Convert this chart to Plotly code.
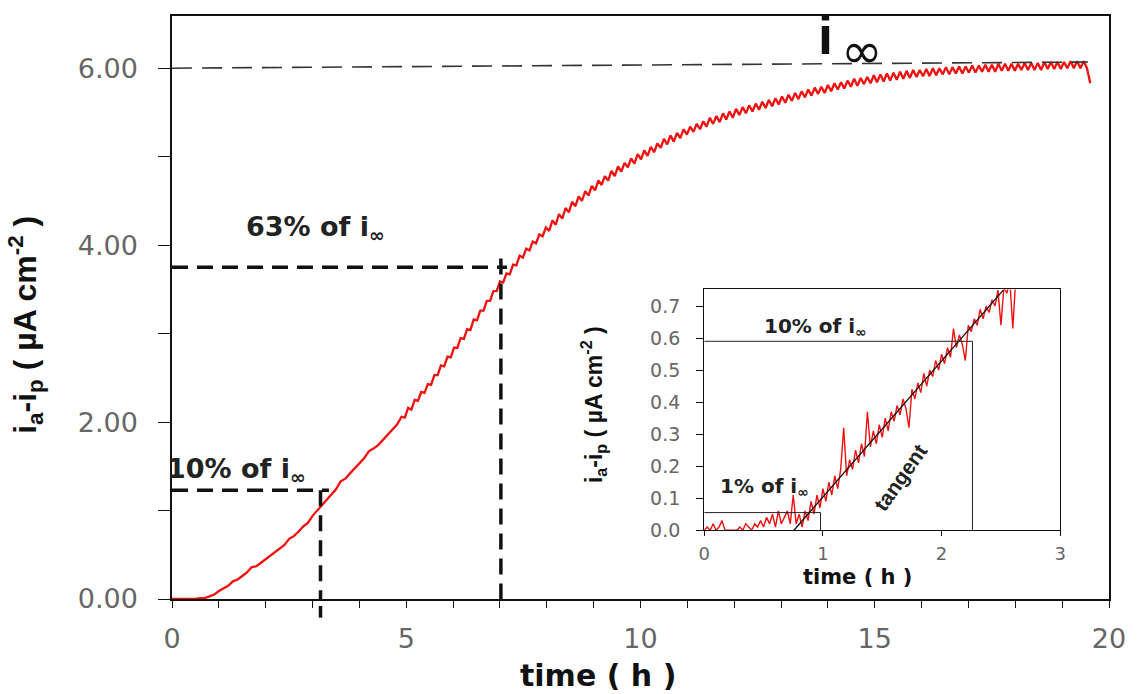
import plotly.graph_objects as go

# ---------------- main curve data (i_a - i_p, µA cm^-2) ----------------
# early part, sampled every 0.1 h from t = 0
early_y = [0.00, 0.00, 0.00, 0.00, 0.00, 0.00, 0.01, 0.01, 0.03, 0.05,
           0.09, 0.12, 0.15, 0.20, 0.22, 0.26, 0.30, 0.36, 0.37, 0.41,
           0.45, 0.49, 0.53, 0.57, 0.61, 0.68, 0.71, 0.76, 0.82, 0.86,
           0.94, 1.00, 1.06, 1.12, 1.18, 1.24, 1.33, 1.36, 1.42, 1.48,
           1.53, 1.59, 1.67, 1.70, 1.74, 1.80, 1.86, 1.91, 1.97]
early_t0 = 0.0
early_dt = 0.1

# later part with the periodic ripple, sampled every 0.07 h from t = 4.90
ripple_y = [2.06, 2.05, 2.16, 2.14, 2.25, 2.24, 2.34, 2.33, 2.43, 2.42,
            2.53, 2.53, 2.64, 2.63, 2.74, 2.73, 2.84, 2.84, 2.95, 2.94,
            3.05, 3.04, 3.16, 3.15, 3.26, 3.26, 3.37, 3.37, 3.48, 3.48,
            3.59, 3.58, 3.68, 3.67, 3.78, 3.77, 3.88, 3.86, 3.96, 3.94,
            4.04, 4.02, 4.12, 4.10, 4.20, 4.16, 4.28, 4.23, 4.35, 4.30,
            4.42, 4.37, 4.49, 4.44, 4.55, 4.50, 4.61, 4.56, 4.67, 4.62,
            4.73, 4.68, 4.78, 4.73, 4.84, 4.78, 4.89, 4.83, 4.93, 4.88,
            4.98, 4.92, 5.03, 4.97, 5.07, 5.01, 5.11, 5.05, 5.15, 5.10,
            5.20, 5.14, 5.24, 5.17, 5.27, 5.21, 5.31, 5.25, 5.34, 5.28,
            5.37, 5.31, 5.40, 5.34, 5.44, 5.37, 5.46, 5.39, 5.49, 5.42,
            5.51, 5.44, 5.54, 5.47, 5.56, 5.49, 5.58, 5.51, 5.60, 5.53,
            5.62, 5.55, 5.64, 5.57, 5.66, 5.59, 5.68, 5.61, 5.70, 5.63,
            5.72, 5.65, 5.74, 5.67, 5.76, 5.69, 5.78, 5.71, 5.79, 5.72,
            5.81, 5.74, 5.83, 5.76, 5.84, 5.77, 5.86, 5.79, 5.88, 5.80,
            5.89, 5.82, 5.90, 5.83, 5.92, 5.84, 5.93, 5.85, 5.94, 5.86,
            5.95, 5.87, 5.96, 5.88, 5.97, 5.89, 5.98, 5.90, 5.98, 5.91,
            5.99, 5.91, 6.00, 5.92, 6.00, 5.93, 6.01, 5.93, 6.01, 5.94,
            6.02, 5.94, 6.02, 5.95, 6.03, 5.95, 6.03, 5.96, 6.04, 5.96,
            6.04, 5.96, 6.05, 5.97, 6.05, 5.97, 6.05, 5.97, 6.05, 5.98,
            6.06, 5.98, 6.06, 5.98, 6.06, 5.98, 6.07, 5.99, 6.07, 5.99,
            6.07, 5.99, 6.07, 6.00, 6.08, 6.00, 6.08, 6.00, 6.08, 6.00,
            5.83]
ripple_t0 = 4.90
ripple_dt = 0.07

main_t = ([round(early_t0 + early_dt * i, 3) for i in range(len(early_y))] +
          [round(ripple_t0 + ripple_dt * i, 3) for i in range(len(ripple_y))])
main_y = early_y + ripple_y

# reference levels in the main plot
i_inf_t = [0.0, 19.55]
i_inf_y = [6.00, 6.07]
p63_t, p63_y = 7.02, 3.75
p10_t, p10_y = 3.17, 1.23

# ---------------- inset data (first 3 h), sampled every 0.025 h ----------------
inset_y = [0.00, 0.01, 0.00, 0.02, 0.00, 0.01, 0.03, 0.00, 0.00, 0.00,
           0.00, 0.00, 0.01, 0.00, 0.02, 0.01, 0.00, 0.02, 0.01, 0.03,
           0.01, 0.04, 0.02, 0.05, 0.01, 0.06, 0.02, 0.04, 0.06, 0.02,
           0.11, 0.02, 0.05, 0.01, 0.06, 0.03, 0.09, 0.05, 0.11, 0.07,
           0.13, 0.09, 0.15, 0.11, 0.17, 0.13, 0.19, 0.32, 0.17, 0.22,
           0.19, 0.25, 0.21, 0.27, 0.23, 0.37, 0.26, 0.31, 0.27, 0.33,
           0.29, 0.35, 0.31, 0.37, 0.34, 0.39, 0.36, 0.41, 0.38, 0.32,
           0.44, 0.41, 0.46, 0.43, 0.49, 0.45, 0.50, 0.48, 0.53, 0.50,
           0.55, 0.52, 0.57, 0.54, 0.63, 0.57, 0.61, 0.58, 0.53, 0.64,
           0.62, 0.66, 0.64, 0.69, 0.66, 0.70, 0.68, 0.72, 0.70, 0.75,
           0.64, 0.76, 0.74, 0.78, 0.63, 0.79]
inset_t0 = 0.0
inset_dt = 0.025
inset_t = [round(inset_t0 + inset_dt * i, 3) for i in range(len(inset_y))]

tangent_t = [0.756, 2.52]
tangent_y = [0.0, 0.75]
p1_t, p1_y = 0.98, 0.055        # 1 % of i_inf
p10i_t, p10i_y = 2.26, 0.59     # 10 % of i_inf

# ---------------- figure ----------------
RED = "#f01010"
TICKGRAY = "#666666"
fig = go.Figure()

fig.add_trace(go.Scatter(x=main_t, y=main_y, mode="lines",
                         line=dict(color=RED, width=2.3), showlegend=False,
                         xaxis="x", yaxis="y"))
fig.add_trace(go.Scatter(x=inset_t, y=inset_y, mode="lines",
                         line=dict(color=RED, width=1.4), showlegend=False,
                         xaxis="x2", yaxis="y2"))
fig.add_trace(go.Scatter(x=tangent_t, y=tangent_y, mode="lines",
                         line=dict(color="#111111", width=1.3), showlegend=False,
                         xaxis="x2", yaxis="y2"))

thick = dict(color="#111111", width=3.5, dash="16px,9px")
thin = dict(color="#222222", width=1)
shapes = [
    dict(type="line", xref="x", yref="y", x0=i_inf_t[0], y0=i_inf_y[0],
         x1=i_inf_t[1], y1=i_inf_y[1],
         line=dict(color="#333333", width=1.6, dash="20px,10px")),
    dict(type="line", xref="x", yref="y", x0=0, y0=p63_y, x1=p63_t + 0.13, y1=p63_y, line=thick),
    dict(type="line", xref="x", yref="y", x0=p63_t, y0=p63_y + 0.1, x1=p63_t, y1=0, line=thick),
    dict(type="line", xref="x", yref="y", x0=0, y0=p10_y, x1=p10_t + 0.18, y1=p10_y, line=thick),
    dict(type="line", xref="x", yref="y", x0=p10_t, y0=p10_y, x1=p10_t, y1=0, line=thick),
    dict(type="line", xref="x", yref="y domain", x0=p10_t, y0=-0.012, x1=p10_t, y1=-0.032,
         line=dict(color="#111111", width=3.5)),
    # inset guide lines
    dict(type="line", xref="x2", yref="y2", x0=0, y0=p10i_y, x1=p10i_t, y1=p10i_y, line=thin),
    dict(type="line", xref="x2", yref="y2", x0=p10i_t, y0=p10i_y, x1=p10i_t, y1=0, line=thin),
    dict(type="line", xref="x2", yref="y2", x0=0, y0=p1_y, x1=p1_t, y1=p1_y, line=thin),
    dict(type="line", xref="x2", yref="y2", x0=p1_t, y0=p1_y, x1=p1_t, y1=0, line=thin),
]

BOLD = "DejaVu Sans"
INF = "i<sub>∞</sub>"
annotations = [
    dict(text="63% of " + INF, x=3.06, y=4.19, xref="x", yref="y", showarrow=False,
         font=dict(family=BOLD, size=27, color="#222222", weight="bold")),
    dict(text="10% of " + INF, x=1.38, y=1.45, xref="x", yref="y", showarrow=False,
         font=dict(family=BOLD, size=27, color="#222222", weight="bold")),
    dict(text="i", x=13.94, y=6.37, xref="x", yref="y", showarrow=False,
         font=dict(family="Liberation Sans", size=54, color="#111111", weight="bold")),
    dict(text="∞", x=14.73, y=6.20, xref="x", yref="y", showarrow=False,
         font=dict(family="DejaVu Sans", size=50, color="#111111")),
    # inset labels
    dict(text="10% of " + INF, x=0.94, y=0.635, xref="x2", yref="y2", showarrow=False,
         font=dict(family=BOLD, size=20, color="#222222", weight="bold")),
    dict(text="1% of " + INF, x=0.51, y=0.134, xref="x2", yref="y2", showarrow=False,
         font=dict(family=BOLD, size=20, color="#222222", weight="bold")),
    dict(text="tangent", x=1.65, y=0.166, xref="x2", yref="y2", showarrow=False,
         textangle=-55,
         font=dict(family="Liberation Sans", size=21, color="#222222", weight="bold")),
    # axis titles
    dict(text="time ( h )", x=0.455, y=-0.131, xref="paper", yref="paper",
         showarrow=False, xanchor="center", yanchor="middle",
         font=dict(family=BOLD, size=30, color="#111111", weight="bold")),
    dict(text="i<sub>a</sub>-i<sub>p</sub> ( µA cm<sup>-2</sup> )", x=-0.156, y=0.47,
         xref="paper", yref="paper", showarrow=False, textangle=-90,
         xanchor="center", yanchor="middle",
         font=dict(family="Liberation Sans", size=32, color="#111111", weight="bold")),
    dict(text="time ( h )", x=1.29, y=0.0, xref="x2", yref="y2", yshift=-47,
         showarrow=False, font=dict(family=BOLD, size=21, color="#111111", weight="bold")),
    dict(text="i<sub>a</sub>-i<sub>p</sub> ( µA cm<sup>-2</sup> )", x=0.4495, y=0.333,
         xref="paper", yref="paper", showarrow=False, textangle=-90,
         xanchor="center", yanchor="middle",
         font=dict(family="Liberation Sans", size=23, color="#111111", weight="bold")),
]

fig.update_layout(
    width=1138, height=694,
    margin=dict(l=172, r=25, t=16, b=95),
    paper_bgcolor="white", plot_bgcolor="white",
    showlegend=False,
    shapes=shapes,
    annotations=annotations,
    xaxis=dict(domain=[0, 1], range=[0, 20], dtick=5, tick0=0,
               showline=True, mirror=True, linecolor="#111111", linewidth=1.5,
               ticks="outside", ticklen=7, tickcolor="#111111", ticklabelstandoff=8,
               minor=dict(dtick=1, tick0=0, ticks="outside", ticklen=7, tickcolor="#111111"),
               showgrid=False, zeroline=False,
               tickfont=dict(family="DejaVu Sans", size=27, color=TICKGRAY)),
    yaxis=dict(domain=[0, 1], range=[0, 6.59], dtick=2, tick0=0, tickformat=".2f",
               showline=True, mirror=True, linecolor="#111111", linewidth=1.5,
               ticks="outside", ticklen=12, tickcolor="#111111", ticklabelstandoff=15,
               minor=dict(dtick=1, tick0=0, ticks="outside", ticklen=12, tickcolor="#111111"),
               showgrid=False, zeroline=False,
               tickfont=dict(family="DejaVu Sans", size=27, color=TICKGRAY)),
    xaxis2=dict(domain=[0.568, 0.948], anchor="y2", range=[0, 3], dtick=1, tick0=0,
                showline=True, mirror=True, linecolor="#111111", linewidth=1.2,
                ticks="outside", ticklen=5, tickcolor="#111111", ticklabelstandoff=2,
                showgrid=False, zeroline=False,
                tickfont=dict(family="DejaVu Sans", size=18, color=TICKGRAY)),
    yaxis2=dict(domain=[0.118, 0.531], anchor="x2", range=[0, 0.752], dtick=0.1, tick0=0,
                tickformat=".1f",
                showline=True, mirror=True, linecolor="#111111", linewidth=1.2,
                ticks="outside", ticklen=7, tickcolor="#111111", ticklabelstandoff=12,
                showgrid=False, zeroline=False,
                tickfont=dict(family="DejaVu Sans", size=19, color=TICKGRAY)),
)

fig.write_html("out.html")
